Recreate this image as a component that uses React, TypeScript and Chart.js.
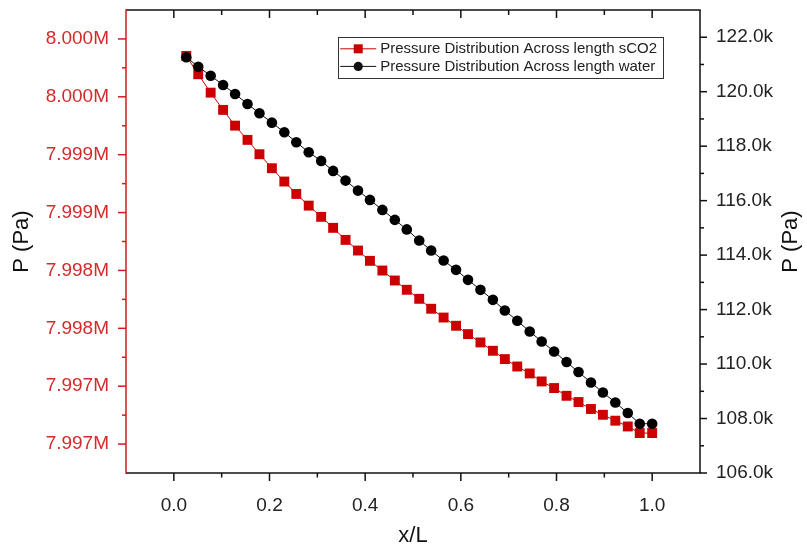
import React, { useEffect, useRef } from 'react';
import { Chart, registerables } from 'chart.js';

Chart.register(...registerables);

// ---------- data ----------
const xPositions = [
  0.026, 0.051, 0.077, 0.103, 0.128, 0.154, 0.179, 0.205, 0.231, 0.256,
  0.282, 0.308, 0.333, 0.359, 0.385, 0.410, 0.436, 0.462, 0.487, 0.513,
  0.538, 0.564, 0.590, 0.615, 0.641, 0.667, 0.692, 0.718, 0.744, 0.769,
  0.795, 0.821, 0.846, 0.872, 0.897, 0.923, 0.949, 0.974, 1.000,
];

const pressureSCO2 = [
  7999853, 7999695, 7999536, 7999387, 7999251, 7999128, 7999004, 7998883, 7998768, 7998661,
  7998560, 7998463, 7998368, 7998264, 7998172, 7998083, 7997999, 7997913, 7997833, 7997755,
  7997669, 7997593, 7997522, 7997450, 7997378, 7997306, 7997234, 7997170, 7997110, 7997041,
  7996984, 7996917, 7996863, 7996803, 7996753, 7996702, 7996652, 7996595, 7996595,
];

const pressureWater = [
  121265, 120919, 120588, 120247, 119917, 119550, 119209, 118864, 118511, 118145,
  117778, 117459, 117092, 116736, 116369, 116028, 115661, 115294, 114945, 114534,
  114167, 113800, 113459, 113092, 112725, 112358, 111966, 111588, 111195, 110828,
  110462, 110073, 109706, 109324, 108957, 108590, 108201, 107809, 107809,
];

const seriesLabels = [
  'Pressure Distribution Across length sCO2',
  'Pressure Distribution Across length water',
];

const leftTickValues = [7996500, 7997000, 7997500, 7998000, 7998500, 7999000, 7999500, 8000000];
const leftTickLabels = ['7.997M', '7.997M', '7.998M', '7.998M', '7.999M', '7.999M', '8.000M', '8.000M'];
const leftRange = [7996250, 8000250];

const rightTickValues = [106000, 108000, 110000, 112000, 114000, 116000, 118000, 120000, 122000];
const rightTickLabels = ['106.0k', '108.0k', '110.0k', '112.0k', '114.0k', '116.0k', '118.0k', '120.0k', '122.0k'];
const rightRange = [106000, 123000];

const xTickValues = [0, 0.2, 0.4, 0.6, 0.8, 1.0];
const xTickLabels = ['0.0', '0.2', '0.4', '0.6', '0.8', '1.0'];
const xRange = [-0.1, 1.1];

const xTitle = 'x/L';
const yTitle = 'P (Pa)';

// ---------- styles ----------
const FONT = "'Liberation Sans', Arial, Helvetica, sans-serif";
const RED = '#cc0000';
const RED_AXIS = '#d01c1c';
const RED_TEXT = '#d42a2a';
const BLACK = '#111111';
const TEXT = '#222222';

function midpoints(arr: number[]) {
  const out: number[] = [];
  for (let i = 0; i < arr.length - 1; i++) out.push((arr[i] + arr[i + 1]) / 2);
  return out;
}

const zeroPad = (s: any) => {
  s.paddingTop = 0;
  s.paddingBottom = 0;
  s.paddingLeft = 0;
  s.paddingRight = 0;
};

const decorPlugin = {
  id: 'decor',
  afterDraw(chart: any) {
    const { ctx, chartArea: a, scales } = chart;
    const sx = scales.x, sl = scales.y, sr = scales.y1;
    const seg = (x1: number, y1: number, x2: number, y2: number) => {
      ctx.beginPath();
      ctx.moveTo(x1, y1);
      ctx.lineTo(x2, y2);
      ctx.stroke();
    };
    ctx.save();
    ctx.lineWidth = 1.5;
    ctx.lineCap = 'butt';
    ctx.strokeStyle = BLACK;
    seg(a.left, a.top, a.right + 0.75, a.top);
    seg(a.right, a.top, a.right, a.bottom);
    seg(a.left, a.bottom, a.right + 0.75, a.bottom);
    xTickValues.forEach((v) => {
      const p = sx.getPixelForValue(v);
      seg(p, a.bottom, p, a.bottom + 8);
      seg(p, a.top, p, a.top + 8);
    });
    midpoints(xTickValues).forEach((v) => {
      const p = sx.getPixelForValue(v);
      seg(p, a.bottom, p, a.bottom + 4.5);
      seg(p, a.top, p, a.top + 5);
    });
    rightTickValues.forEach((v) => {
      const p = sr.getPixelForValue(v);
      seg(a.right, p, a.right + 7, p);
    });
    midpoints(rightTickValues).forEach((v) => {
      const p = sr.getPixelForValue(v);
      seg(a.right, p, a.right + 4, p);
    });
    ctx.strokeStyle = RED_AXIS;
    seg(a.left, a.top - 0.75, a.left, a.bottom + 0.75);
    leftTickValues.forEach((v) => {
      const p = sl.getPixelForValue(v);
      seg(a.left - 8, p, a.left, p);
    });
    midpoints(leftTickValues).forEach((v) => {
      const p = sl.getPixelForValue(v);
      seg(a.left - 4, p, a.left, p);
    });

    // right axis title (reads bottom to top)
    ctx.fillStyle = BLACK;
    ctx.font = `22px ${FONT}`;
    ctx.textAlign = 'center';
    ctx.textBaseline = 'middle';
    ctx.translate(791, (a.top + a.bottom) / 2);
    ctx.rotate(-Math.PI / 2);
    ctx.fillText(yTitle, 0, 0);
    ctx.restore();

    // legend
    ctx.save();
    ctx.font = `15px ${FONT}`;
    const textW = Math.max(...seriesLabels.map((t) => ctx.measureText(t).width));
    const boxW = 42 + textW + 6;
    const boxH = 41;
    const right = a.right - 37;
    const left = right - boxW;
    const top = a.top + 27;
    ctx.fillStyle = '#ffffff';
    ctx.fillRect(left, top, boxW, boxH);
    ctx.strokeStyle = '#333333';
    ctx.lineWidth = 1;
    ctx.strokeRect(Math.round(left) + 0.5, Math.round(top) + 0.5, Math.round(boxW), boxH);
    const rows = [top + 11.8, top + 29.4];
    const colors = [RED, BLACK];
    rows.forEach((ry, i) => {
      ctx.strokeStyle = colors[i];
      ctx.lineWidth = 1;
      seg(left + 2, ry, left + 38, ry);
      ctx.fillStyle = colors[i];
      if (i === 0) {
        ctx.fillRect(left + 20 - 4.5, ry - 4.5, 9, 9);
      } else {
        ctx.beginPath();
        ctx.arc(left + 20, ry, 4.6, 0, Math.PI * 2);
        ctx.fill();
      }
      ctx.fillStyle = TEXT;
      ctx.textAlign = 'left';
      ctx.textBaseline = 'middle';
      ctx.fillText(seriesLabels[i], left + 42, ry + 0.5);
    });
    ctx.restore();
  },
};

export default function App() {
  const canvasRef = useRef<HTMLCanvasElement | null>(null);

  useEffect(() => {
    document.body.style.margin = '0';
    const canvas = canvasRef.current;
    if (!canvas) return;

    const chart = new Chart(canvas, {
      type: 'line',
      data: {
        datasets: [
          {
            label: seriesLabels[0],
            data: xPositions.map((x, i) => ({ x, y: pressureSCO2[i] })),
            yAxisID: 'y',
            borderColor: RED,
            backgroundColor: RED,
            borderWidth: 1,
            pointStyle: 'rect',
            pointRadius: 7,
            pointBorderWidth: 0,
            pointBackgroundColor: RED,
            tension: 0,
            order: 2,
          },
          {
            label: seriesLabels[1],
            data: xPositions.map((x, i) => ({ x, y: pressureWater[i] })),
            yAxisID: 'y1',
            borderColor: BLACK,
            backgroundColor: '#000000',
            borderWidth: 1,
            pointStyle: 'circle',
            pointRadius: 5.3,
            pointBorderWidth: 0,
            pointBackgroundColor: '#000000',
            tension: 0,
            order: 1,
          },
        ],
      },
      options: {
        responsive: false,
        animation: false,
        devicePixelRatio: 1,
        layout: { padding: { top: 10, left: 0, right: 0, bottom: 0 } },
        plugins: {
          legend: { display: false },
          tooltip: { enabled: false },
        },
        font: { family: FONT },
        scales: {
          x: {
            type: 'linear',
            position: 'bottom',
            min: xRange[0],
            max: xRange[1],
            afterBuildTicks: (s: any) => {
              s.ticks = xTickValues.map((v) => ({ value: v }));
            },
            afterFit: (s: any) => {
              s.height = 77;
              zeroPad(s);
            },
            grid: { display: false },
            border: { display: false },
            ticks: {
              autoSkip: false,
              maxRotation: 0,
              color: TEXT,
              padding: 13,
              font: { family: FONT, size: 19 },
              callback: (_v: any, i: number) => xTickLabels[i],
            },
            title: {
              display: true,
              text: xTitle,
              color: BLACK,
              font: { family: FONT, size: 22 },
              padding: { top: 0, bottom: 1 },
            },
          },
          y: {
            type: 'linear',
            position: 'left',
            min: leftRange[0],
            max: leftRange[1],
            afterBuildTicks: (s: any) => {
              s.ticks = leftTickValues.map((v) => ({ value: v }));
            },
            afterFit: (s: any) => {
              s.width = 126;
              zeroPad(s);
            },
            grid: { display: false },
            border: { display: false },
            ticks: {
              autoSkip: false,
              color: RED_TEXT,
              padding: 9,
              font: { family: FONT, size: 19 },
              callback: (_v: any, i: number) => leftTickLabels[i],
            },
            title: {
              display: true,
              text: yTitle,
              color: BLACK,
              font: { family: FONT, size: 22 },
              padding: { top: 9, bottom: 0 },
            },
          },
          y1: {
            type: 'linear',
            position: 'right',
            min: rightRange[0],
            max: rightRange[1],
            afterBuildTicks: (s: any) => {
              s.ticks = rightTickValues.map((v) => ({ value: v }));
            },
            afterFit: (s: any) => {
              s.width = 107;
              zeroPad(s);
            },
            grid: { display: false },
            border: { display: false },
            ticks: {
              autoSkip: false,
              color: TEXT,
              padding: 8,
              font: { family: FONT, size: 19 },
              callback: (_v: any, i: number) => rightTickLabels[i],
            },
          },
        },
      } as any,
      plugins: [decorPlugin],
    });

    return () => {
      chart.destroy();
    };
  }, []);

  return (
    <div style={{ width: 807, height: 550 }}>
      <canvas ref={canvasRef} width={807} height={550} style={{ display: 'block' }} />
    </div>
  );
}
